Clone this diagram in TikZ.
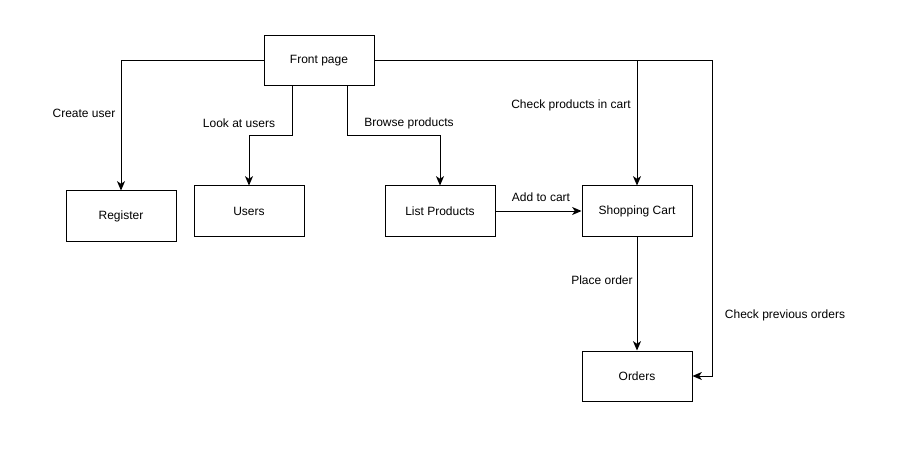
\documentclass[tikz,border=0pt]{standalone}
\usepackage{fontspec}
\setmainfont{Liberation Sans}
\usetikzlibrary{arrows.meta}

\begin{document}
\begin{tikzpicture}[x=0.75pt,y=0.75pt,yscale=-1,xscale=1,
  font=\fontsize{9}{11}\selectfont,
  block/.style={draw,line width=0.75pt,minimum width=82.5pt,minimum height=37.5pt,inner sep=0pt},
  flow/.style={line width=0.75pt,-{Stealth[length=7pt,width=6pt,inset=2pt]}},
  lbl/.style={inner sep=0pt}]
\useasboundingbox (0,0) rectangle (908,460);

%Shape: Rectangle
\node [block] (front) at (319,61) {Front page};
\node [block] (register) at (121,216) {Register};
\node [block] (users) at (249,211) {Users};
\node [block] (list) at (440,211) {List Products};
\node [block] (cart) at (637,211) {Shopping Cart};
\node [block] (orders) at (637,376) {Orders};

%Bend points
\coordinate (bUsers) at (292,136);
\coordinate (bList) at (347,136);
\coordinate (bOrders) at (712,61);

%Straight Lines
\draw [flow] (front.west) -| (register.north);
\draw [flow] (bUsers |- front.south) -- (bUsers) -| (users.north);
\draw [flow] (bList |- front.south) -- (bList) -| (list.north);
\draw [flow] (front.east) -| (cart.north);
\draw [flow] (front.east) -- (bOrders) |- (orders.east);
\draw [flow] (list.east) -- (cart.west);
\draw [flow] (cart.south) -- (orders.north);

% Text Node
\node [lbl] (tCreate) at (84,113) {Create user};
\node [lbl] (tLook) at (239,123) {Look at users};
\node [lbl] (tBrowse) at (409,123) {Browse products};
\node [lbl] (tCheck) at (571,105) {Check products in cart};
\node [lbl] (tAdd) at (541,197) {Add to cart};
\node [lbl] (tPlace) at (602,280) {Place order};
\node [lbl] (tPrev) at (785,315) {Check previous orders};

\end{tikzpicture}
\end{document}
